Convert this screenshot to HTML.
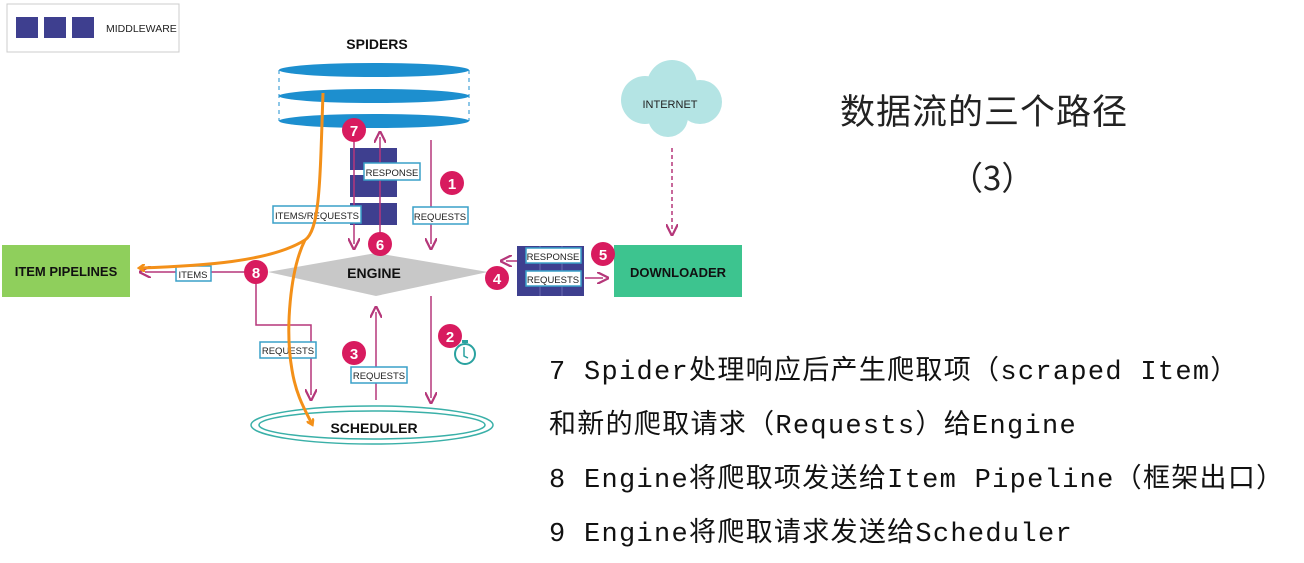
<!DOCTYPE html>
<html><head><meta charset="utf-8"><style>
body{margin:0;width:1304px;height:563px;background:#fff;overflow:hidden;position:relative;font-family:"Liberation Sans","Noto Sans CJK SC",sans-serif}
.t{position:absolute;font-family:"Liberation Mono","Noto Sans CJK SC",monospace;font-size:27px;color:#111;white-space:nowrap;letter-spacing:1.3px}
</style></head><body>
<svg width="1304" height="563" style="position:absolute;left:0;top:0" font-family="Liberation Sans, sans-serif">
<defs>
<marker id="pa" markerWidth="8" markerHeight="8" refX="4" refY="4" orient="auto"><path d="M0,0 L8,4 L0,8" fill="none" stroke="#b5377a" stroke-width="1.5"/></marker>
<marker id="oa" markerWidth="8" markerHeight="8" refX="5" refY="4" orient="auto" markerUnits="userSpaceOnUse"><path d="M0,0 L6,4 L0,8" fill="none" stroke="#f39019" stroke-width="2.5"/></marker>
</defs>
<rect x="7" y="4" width="172" height="48" fill="#fff" stroke="#ccc"/>
<rect x="16" y="17" width="22" height="21" fill="#3e3f8f"/><rect x="44" y="17" width="22" height="21" fill="#3e3f8f"/><rect x="72" y="17" width="22" height="21" fill="#3e3f8f"/>
<text x="106" y="32" font-size="10.5" fill="#222">MIDDLEWARE</text>
<text x="377" y="49" font-size="14" font-weight="bold" text-anchor="middle" fill="#111">SPIDERS</text>
<g fill="#1d8fcf"><ellipse cx="374" cy="70" rx="95" ry="7"/><ellipse cx="374" cy="96" rx="95" ry="7"/><ellipse cx="374" cy="121" rx="95" ry="7"/></g>
<line x1="279" y1="70" x2="279" y2="121" stroke="#1d8fcf" stroke-dasharray="4,4"/><line x1="469" y1="70" x2="469" y2="121" stroke="#1d8fcf" stroke-dasharray="4,4"/>
<g fill="#3e3f8f"><rect x="350" y="148" width="47" height="22"/><rect x="350" y="175" width="47" height="22"/><rect x="350" y="203" width="47" height="22"/></g>
<g stroke="#b5377a" stroke-width="1.5" fill="none">
<line x1="354" y1="140" x2="354" y2="244" marker-end="url(#pa)"/>
<line x1="380" y1="240" x2="380" y2="137" marker-end="url(#pa)"/>
<line x1="431" y1="140" x2="431" y2="244" marker-end="url(#pa)"/>
<line x1="245" y1="272" x2="145" y2="272" marker-end="url(#pa)"/>
<polyline points="256,282 256,325 311,325 311,395" marker-end="url(#pa)"/>
<line x1="376" y1="400" x2="376" y2="312" marker-end="url(#pa)"/>
<line x1="431" y1="296" x2="431" y2="398" marker-end="url(#pa)"/>
<line x1="520" y1="261" x2="506" y2="261" marker-end="url(#pa)"/>
<line x1="585" y1="278" x2="603" y2="278" marker-end="url(#pa)"/>
<line x1="672" y1="148" x2="672" y2="230" stroke-dasharray="4,3" marker-end="url(#pa)"/>
</g>
<g font-size="9.5" fill="#222" text-anchor="middle">
<rect x="364" y="163" width="56" height="17" fill="#fff" stroke="#3aa0c8" stroke-width="1.5"/><text x="392" y="176">RESPONSE</text>
<rect x="273" y="206" width="88" height="17" fill="#fff" stroke="#3aa0c8" stroke-width="1.5"/><text x="317" y="219">ITEMS/REQUESTS</text>
<rect x="413" y="207" width="55" height="17" fill="#fff" stroke="#3aa0c8" stroke-width="1.5"/><text x="440" y="220">REQUESTS</text>
<rect x="176" y="266" width="35" height="15" fill="#fff" stroke="#3aa0c8" stroke-width="1.5"/><text x="193" y="278">ITEMS</text>
<rect x="260" y="342" width="56" height="16" fill="#fff" stroke="#3aa0c8" stroke-width="1.5"/><text x="288" y="354">REQUESTS</text>
<rect x="351" y="367" width="56" height="16" fill="#fff" stroke="#3aa0c8" stroke-width="1.5"/><text x="379" y="379">REQUESTS</text>
</g>
<rect x="2" y="245" width="128" height="52" fill="#8fcf5c"/>
<text x="66" y="276" font-size="13" font-weight="bold" text-anchor="middle" fill="#111">ITEM PIPELINES</text>
<polygon points="268,272 376,253 488,272 376,296" fill="#c8c8c8"/>
<text x="374" y="278" font-size="14" font-weight="bold" text-anchor="middle" fill="#111">ENGINE</text>
<rect x="517" y="246" width="67" height="50" fill="#3e3f8f"/>
<g stroke="#6a6bb0" stroke-width="1"><line x1="540" y1="246" x2="540" y2="296"/><line x1="562" y1="246" x2="562" y2="296"/></g>
<g font-size="9.5" fill="#222" text-anchor="middle">
<rect x="526" y="248" width="55" height="15" fill="#fff" stroke="#3aa0c8" stroke-width="1.5"/><text x="553" y="260">RESPONSE</text>
<rect x="526" y="271" width="55" height="15" fill="#fff" stroke="#3aa0c8" stroke-width="1.5"/><text x="553" y="283">REQUESTS</text>
</g>
<rect x="614" y="245" width="128" height="52" fill="#3dc48f"/>
<text x="678" y="277" font-size="13" font-weight="bold" text-anchor="middle" fill="#111">DOWNLOADER</text>
<g fill="#b4e4e4"><circle cx="645" cy="100" r="24"/><circle cx="672" cy="85" r="25"/><circle cx="700" cy="102" r="22"/><circle cx="668" cy="117" r="20"/></g>
<text x="670" y="108" font-size="11" text-anchor="middle" fill="#222">INTERNET</text>
<ellipse cx="372" cy="425" rx="121" ry="19" fill="none" stroke="#3ab0a8" stroke-width="1.5"/>
<ellipse cx="372" cy="425" rx="113" ry="14" fill="none" stroke="#3ab0a8" stroke-width="1.5"/>
<text x="374" y="433" font-size="14" font-weight="bold" text-anchor="middle" fill="#111">SCHEDULER</text>
<circle cx="465" cy="354" r="10" fill="none" stroke="#2aa2a0" stroke-width="2"/><rect x="462" y="340" width="6" height="3" fill="#2aa2a0"/><polyline points="464,347 464,356 468,358" fill="none" stroke="#2aa2a0" stroke-width="1.5"/>
<g fill="#d81b5f"><circle cx="354" cy="130" r="12"/><circle cx="452" cy="183" r="12"/><circle cx="380" cy="244" r="12"/><circle cx="256" cy="272" r="12"/><circle cx="497" cy="278" r="12"/><circle cx="603" cy="254" r="12"/><circle cx="354" cy="353" r="12"/><circle cx="450" cy="336" r="12"/></g>
<g fill="#fff" font-size="15" font-weight="bold" text-anchor="middle">
<text x="354" y="136">7</text><text x="452" y="189">1</text><text x="380" y="250">6</text><text x="256" y="278">8</text><text x="497" y="284">4</text><text x="603" y="260">5</text><text x="354" y="359">3</text><text x="450" y="342">2</text></g>
<g stroke="#f39019" stroke-width="3" fill="none">
<path d="M323,93 C320,180 320,230 305,240 C270,262 200,266 140,268" marker-end="url(#oa)"/>
<path d="M305,240 C290,270 285,330 292,370 C296,395 305,410 312,424" marker-end="url(#oa)"/>
</g>
</svg>
<div style="position:absolute;left:840px;top:84px;font-family:'Noto Sans CJK SC',sans-serif;font-size:35px;color:#222;letter-spacing:1px">数据流的三个路径</div>
<div style="position:absolute;left:950px;top:152px;font-family:'Noto Sans CJK SC',sans-serif;font-size:33px;color:#222">（3）</div>
<div class="t" style="left:549px;top:348px">7 Spider处理响应后产生爬取项（scraped Item）</div>
<div class="t" style="left:549px;top:402px">和新的爬取请求（Requests）给Engine</div>
<div class="t" style="left:549px;top:456px">8 Engine将爬取项发送给Item Pipeline（框架出口）</div>
<div class="t" style="left:549px;top:510px">9 Engine将爬取请求发送给Scheduler</div>
</body></html>
